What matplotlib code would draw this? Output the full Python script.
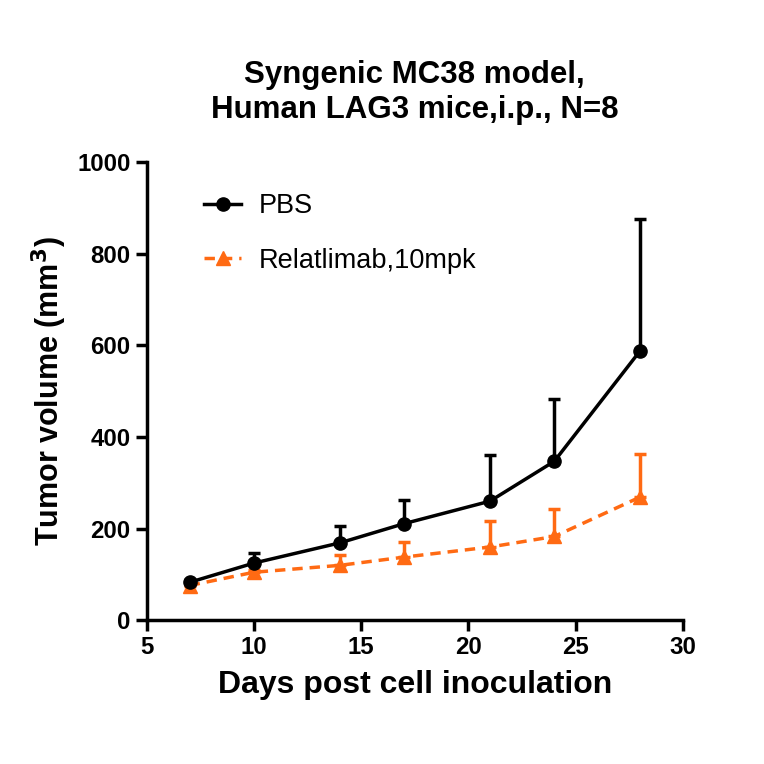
import matplotlib
matplotlib.use("Agg")
import matplotlib.pyplot as plt
from matplotlib.lines import Line2D
import numpy as np

plt.rcParams['font.family'] = ['Liberation Sans', 'DejaVu Sans']

days = [7, 10, 14, 17, 21, 24, 28]
pbs_mean = [83, 125, 169, 211, 260, 347, 588]
pbs_err = [4, 23, 37, 51, 100, 136, 288]
rel_mean = [76, 105, 120, 138, 160, 183, 269]
rel_err = [4, 5, 22, 33, 57, 61, 95]

black = '#000000'
orange = '#FF6A13'
dash = (0, (3, 2))

fig = plt.figure(figsize=(7.64, 7.64), dpi=100)
ax = fig.add_axes([0.192, 0.188, 0.702, 0.600])

ax.errorbar(days, pbs_mean, yerr=[np.zeros(len(days)), pbs_err], color=black,
            marker='o', markersize=9.5, linewidth=2.5, elinewidth=2.5, capsize=4,
            capthick=2.5, zorder=3)
ax.errorbar(days, rel_mean, yerr=[np.zeros(len(days)), rel_err], color=orange,
            marker='^', markersize=9.5, linewidth=2.5, linestyle=dash,
            elinewidth=2.5, capsize=4, capthick=2.5, zorder=2)

ax.set_xlim(5, 30)
ax.set_ylim(0, 1000)
ax.set_xticks([5, 10, 15, 20, 25, 30])
ax.set_yticks([0, 200, 400, 600, 800, 1000])
for s in ['top', 'right']:
    ax.spines[s].set_visible(False)
for s in ['left', 'bottom']:
    ax.spines[s].set_linewidth(2.5)
ax.tick_params(width=2.5, length=8, labelsize=17.3, direction='out')
for lab in ax.get_xticklabels() + ax.get_yticklabels():
    lab.set_fontweight('bold')

ax.set_xlabel('Days post cell inoculation', fontsize=23, fontweight='bold', labelpad=8)
ax.set_ylabel('Tumor volume (mm$^\\mathbf{3}$)', fontsize=22, fontweight='bold', labelpad=6)
ax.set_title('Syngenic MC38 model,\nHuman LAG3 mice,i.p., N=8', fontsize=22.5,
             fontweight='bold', pad=32, linespacing=1.2)

handles = [Line2D([], [], color=black, marker='o', markersize=9.5, linewidth=2.5),
           Line2D([], [], color=orange, marker='^', markersize=9.5, linewidth=2.5,
                  linestyle=dash)]
labels = ['PBS', 'Relatlimab,10mpk']
ax.legend(handles, labels, loc='upper left', bbox_to_anchor=(0.062, 0.985), frameon=False,
          fontsize=19.5, handlelength=1.35, labelspacing=1.05, handletextpad=0.67)

fig.savefig('out.png', dpi=100)
